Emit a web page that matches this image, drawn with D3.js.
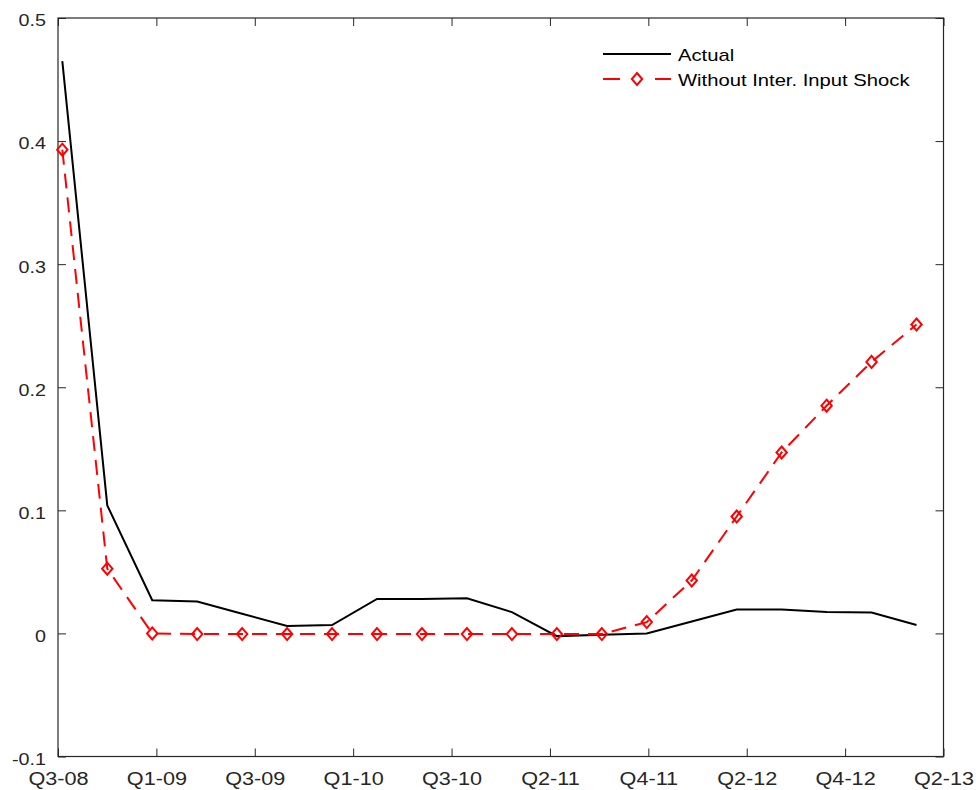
<!DOCTYPE html>
<html>
<head>
<meta charset="utf-8">
<script src="https://cdn.jsdelivr.net/npm/d3@7"></script>
<style>
  body { margin: 0; background: #fff; }
  text { font-family: "Liberation Sans", Arial, Helvetica, sans-serif; fill: #262626; }
</style>
</head>
<body>
<div id="chart"></div>
<script>
// quarter tick labels (evenly spread along the axis)
const quarterLabels = ["Q3-08", "Q1-09", "Q3-09", "Q1-10", "Q3-10", "Q2-11", "Q4-11", "Q2-12", "Q4-12", "Q2-13"];
const yTicks = [-0.1, 0, 0.1, 0.2, 0.3, 0.4, 0.5];

// one value per quarter
const actual = [0.465, 0.104, 0.027, 0.026, 0.016, 0.006, 0.0068, 0.028, 0.028, 0.0285,
  0.0173, -0.0022, -0.001, 0.0, 0.0097, 0.0195, 0.0195, 0.0173, 0.017, 0.0068];
const withoutShock = [0.393, 0.0526, 0.0, -0.0005, -0.0005, -0.0005, -0.0005, -0.0005, -0.0005, -0.0005,
  -0.0005, -0.0005, -0.0005, 0.0092, 0.043, 0.095, 0.147, 0.185, 0.2206, 0.251];

const seriesNames = ["Actual", "Without Inter. Input Shock"];

const W = 976, H = 790;
const plotLeft = 58, plotRight = 943.5, plotTop = 18, plotBottom = 756.5;
const axisColor = "#262626";

const svg = d3.select("#chart").append("svg")
  .attr("width", W)
  .attr("height", H);

const x = d3.scaleLinear().domain([-0.096, 19.6]).range([plotLeft, plotRight]);
const y = d3.scaleLinear().domain([-0.1, 0.5]).range([plotBottom, plotTop]);

const [x0, x1] = x.domain();
const tickPos = quarterLabels.map((d, i) => x0 + i * (x1 - x0) / (quarterLabels.length - 1));
const yFmt = d => d === 0 ? "0" : String(+d.toFixed(1));

// bottom axis with labels
const gb = svg.append("g")
  .attr("transform", `translate(0,${plotBottom})`)
  .call(d3.axisBottom(x).tickValues(tickPos).tickFormat((d, i) => quarterLabels[i]).tickSize(-8).tickPadding(15));
gb.select(".domain").remove();
gb.selectAll("text")
  .attr("transform", "scale(1.14,1)")
  .style("font-size", "19px");

// top axis, ticks only
const gt = svg.append("g")
  .attr("transform", `translate(0,${plotTop})`)
  .call(d3.axisTop(x).tickValues(tickPos).tickFormat("").tickSize(-8));
gt.select(".domain").remove();

// left axis with labels
const gl = svg.append("g")
  .attr("transform", `translate(${plotLeft},0)`)
  .call(d3.axisLeft(y).tickValues(yTicks).tickFormat(yFmt).tickSize(-8));
gl.select(".domain").remove();
gl.selectAll("text")
  .attr("x", null)
  .attr("dy", "0.5em")
  .attr("transform", "translate(-12,0) scale(1.25,1)")
  .style("font-size", "15.8px");

// right axis, ticks only
const gr = svg.append("g")
  .attr("transform", `translate(${plotRight},0)`)
  .call(d3.axisRight(y).tickValues(yTicks).tickFormat("").tickSize(-8));
gr.select(".domain").remove();

svg.selectAll(".tick line").attr("stroke", axisColor).attr("stroke-width", 1);

// box
svg.append("rect")
  .attr("x", plotLeft).attr("y", plotTop)
  .attr("width", plotRight - plotLeft).attr("height", plotBottom - plotTop)
  .attr("fill", "none")
  .attr("stroke", axisColor)
  .attr("stroke-width", 1.2);

const line = d3.line()
  .x((d, i) => x(i))
  .y(d => y(d));

svg.append("path")
  .datum(actual)
  .attr("d", line)
  .attr("fill", "none")
  .attr("stroke", "#000")
  .attr("stroke-width", 2);

svg.append("path")
  .datum(withoutShock)
  .attr("d", line)
  .attr("fill", "none")
  .attr("stroke", "#ff0000")
  .attr("stroke-width", 2)
  .attr("stroke-dasharray", "15,9");

const diamond = "M0,-6L5.2,0L0,6L-5.2,0Z";

svg.append("g").selectAll("path")
  .data(withoutShock)
  .enter().append("path")
  .attr("d", diamond)
  .attr("transform", (d, i) => `translate(${x(i)},${y(d)})`)
  .attr("fill", "none")
  .attr("stroke", "#ff0000")
  .attr("stroke-width", 2);

// legend
const lg = svg.append("g");
lg.append("line")
  .attr("x1", 603).attr("x2", 671).attr("y1", 54).attr("y2", 54)
  .attr("stroke", "#000").attr("stroke-width", 2);
lg.append("line")
  .attr("x1", 603).attr("x2", 620).attr("y1", 79).attr("y2", 79)
  .attr("stroke", "#ff0000").attr("stroke-width", 2);
lg.append("line")
  .attr("x1", 655).attr("x2", 671).attr("y1", 79).attr("y2", 79)
  .attr("stroke", "#ff0000").attr("stroke-width", 2);
lg.append("path")
  .attr("d", diamond)
  .attr("transform", "translate(637,79)")
  .attr("fill", "none")
  .attr("stroke", "#ff0000")
  .attr("stroke-width", 2);

lg.selectAll("text")
  .data(seriesNames)
  .enter().append("text")
  .attr("transform", (d, i) => `translate(678,${61 + i * 25}) scale(1.19,1)`)
  .style("font-size", "17px")
  .style("fill", "#000")
  .text(d => d);
</script>
</body>
</html>
